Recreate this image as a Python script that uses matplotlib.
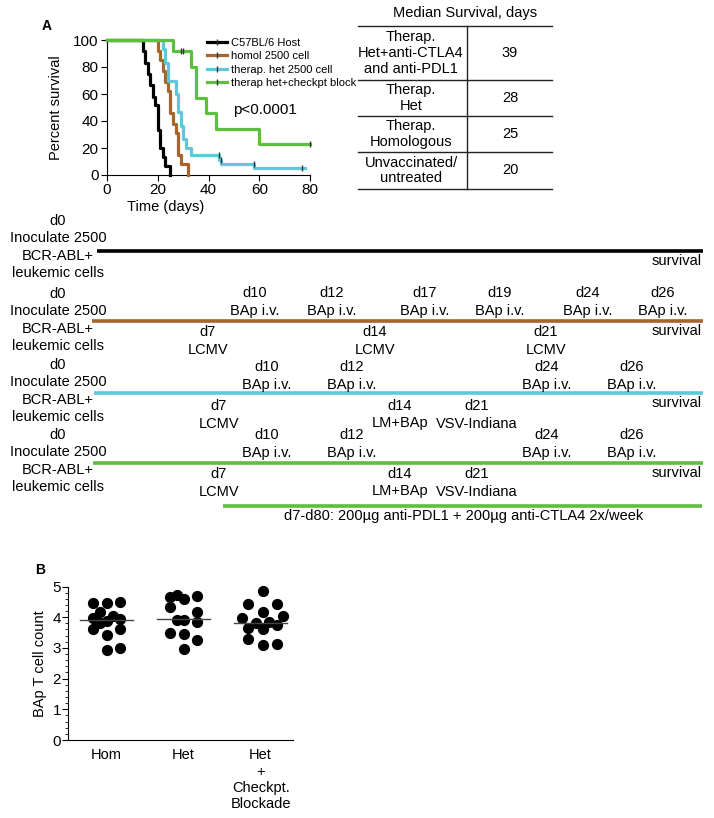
import numpy as np
import matplotlib
matplotlib.use('Agg')
import matplotlib.pyplot as plt
from matplotlib.lines import Line2D
from matplotlib.ticker import MultipleLocator

plt.rcParams['font.family'] = ['Liberation Sans', 'DejaVu Sans']

# Kaplan-Meier curves (day, percent survival)
black_t = [0, 14, 15, 16, 17, 18, 19, 20, 21, 22, 23, 25]
black_s = [100, 92, 83, 75, 67, 58, 52, 33, 20, 13, 7, 0]
brown_t = [0, 20, 21, 22, 23, 24, 25, 26, 27, 28, 29, 32]
brown_s = [100, 92, 85, 77, 69, 62, 46, 38, 31, 15, 8, 0]
cyan_t = [0, 22, 23, 24, 27, 28, 29, 30, 31, 33, 44, 45, 58, 78]
cyan_s = [100, 93, 83, 70, 60, 47, 36, 27, 20, 15, 11, 8, 5, 5]
green_t = [0, 26, 33, 35, 39, 43, 60, 80]
green_s = [100, 92, 80, 57, 46, 34, 23, 23]
# censor marks
cens_green_t = [29, 30, 80]
cens_green_s = [92, 92, 23]
cens_cyan_t = [44, 45, 58, 77]
cens_cyan_s = [15, 11, 8, 5]

curve_labels = ['C57BL/6 Host', 'homol 2500 cell', 'therap. het 2500 cell', 'therap het+checkpt block']
c_black, c_brown, c_cyan, c_green = '#000000', '#a5652c', '#62c6db', '#5cbf3e'

# median survival table
tbl_groups = ['Therap.\nHet+anti-CTLA4\nand anti-PDL1', 'Therap.\nHet', 'Therap.\nHomologous',
              'Unvaccinated/\nuntreated']
tbl_medians = ['39', '28', '25', '20']

# panel B: BAp T cell count
categories = ['Hom', 'Het', 'Het\n+\nCheckpt.\nBlockade']
hom_y = [4.45, 4.45, 4.48, 4.18, 3.99, 4.04, 3.89, 3.82, 3.93, 3.6, 3.6, 3.42, 2.93, 2.99]
hom_dx = [-0.18, 0.01, 0.18, -0.09, -0.18, 0.09, 0.0, -0.09, 0.18, -0.18, 0.18, 0.01, 0.01, 0.18]
het_y = [4.65, 4.72, 4.58, 4.69, 4.32, 4.18, 3.91, 3.91, 3.85, 3.5, 3.45, 3.26, 2.95]
het_dx = [-0.18, -0.09, 0.0, 0.17, -0.18, 0.17, -0.09, 0.0, 0.17, -0.18, 0.0, 0.17, 0.0]
chk_y = [4.86, 4.42, 4.42, 4.18, 3.96, 4.05, 3.8, 3.83, 3.66, 3.6, 3.74, 3.29, 3.1, 3.13]
chk_dx = [0.03, -0.16, 0.21, 0.03, -0.24, 0.29, -0.06, 0.11, -0.16, 0.03, 0.21, -0.16, 0.03, 0.21]
medians_b = [3.91, 3.93, 3.82]

fig = plt.figure(figsize=(7.14, 8.18), dpi=100)

# overlay in pixel coordinates for timeline + table
ov = fig.add_axes([0, 0, 1, 1])
ov.set_xlim(0, 714)
ov.set_ylim(818, 0)
ov.axis('off')

W, H = 714, 818
def ax_rect(l, t, r, b):
    return [l / W, 1 - b / H, (r - l) / W, (b - t) / H]

# ---- survival curves
ax = fig.add_axes(ax_rect(107, 40, 310, 175))
for t, s, c in [(black_t, black_s, c_black), (brown_t, brown_s, c_brown),
                (cyan_t, cyan_s, c_cyan), (green_t, green_s, c_green)]:
    ax.step(t, s, where='post', color=c, lw=2.3, clip_on=False, zorder=3)
ax.plot(cens_green_t, cens_green_s, ls='none', marker='|', ms=4, mew=1, color='#333333', clip_on=False, zorder=4)
ax.plot(cens_cyan_t, cens_cyan_s, ls='none', marker='|', ms=4, mew=1, color='#333333', clip_on=False, zorder=4)
ax.set_xlim(0, 80)
ax.set_ylim(0, 100)
ax.set_xticks([0, 20, 40, 60, 80])
ax.set_yticks([0, 20, 40, 60, 80, 100])
ax.spines['top'].set_visible(False)
ax.spines['right'].set_visible(False)
ax.tick_params(labelsize=11, length=4, direction='out', pad=2)
ax.patch.set_alpha(0)
handles = [Line2D([], [], color=c, lw=2.3, marker='|', ms=4, mew=1, markeredgecolor='#333333')
           for c in [c_black, c_brown, c_cyan, c_green]]
ax.legend(handles, curve_labels, loc='upper left', bbox_to_anchor=(207 / W, 1 - 38 / H),
          bbox_transform=fig.transFigure, frameon=False, fontsize=8, handlelength=1.8,
          handletextpad=0.4, labelspacing=0.3, borderpad=0, borderaxespad=0)
ax.text(233 / W, 1 - 110 / H, 'p<0.0001', transform=fig.transFigure, fontsize=11, va='center')
fig.text(42 / W, 1 - 26 / H, 'A', fontsize=10, fontweight='bold', va='center')
fig.text(56 / W, 1 - 108 / H, 'Percent survival', rotation=90, fontsize=10.5, va='center', ha='center')
fig.text(166 / W, 1 - 207 / H, 'Time (days)', fontsize=10.5, va='center', ha='center')

# ---- median survival table
ov.text(465, 13, 'Median Survival, days', ha='center', va='center', fontsize=10.5)
row_lines = [26, 80, 116, 152, 189]
for y in row_lines:
    ov.plot([358, 552], [y, y], color='#222222', lw=1)
ov.plot([467, 467], [26, 189], color='#222222', lw=1)
for i, (g, m) in enumerate(zip(tbl_groups, tbl_medians)):
    yc = (row_lines[i] + row_lines[i + 1]) / 2
    ov.text(411, yc, g, ha='center', va='center', fontsize=10.5, linespacing=1.15)
    ov.text(510, yc, m, ha='center', va='center', fontsize=10.5)

# ---- timelines
fs = 10.5
inoc = ['d0', 'Inoculate 2500', 'BCR-ABL+', 'leukemic cells']
row_top = [221, 294, 365, 435]
row_line = [251, 321, 393, 463]
row_start = [97, 92, 94, 93]
row_col = [c_black, c_brown, c_cyan, c_green]
for i in range(4):
    for k, s in enumerate(inoc):
        ov.text(58, row_top[i] + 17.3 * k, s, ha='center', va='center', fontsize=fs)
    ov.plot([row_start[i], 703], [row_line[i], row_line[i]], color=row_col[i], lw=2.6,
            solid_capstyle='butt')
    ov.text(702, row_line[i] + 10, 'survival', ha='right', va='center', fontsize=fs)

# events above / below each line: (day label, treatment)
brown_up = [('d10', 'BAp i.v.'), ('d12', 'BAp i.v.'), ('d17', 'BAp i.v.'), ('d19', 'BAp i.v.'),
            ('d24', 'BAp i.v.'), ('d26', 'BAp i.v.')]
brown_up_x = [255, 332, 425, 500, 588, 663]
brown_dn = [('d7', 'LCMV'), ('d14', 'LCMV'), ('d21', 'LCMV')]
brown_dn_x = [208, 375, 546]
het_up = [('d10', 'BAp i.v.'), ('d12', 'BAp i.v.'), ('d24', 'BAp i.v.'), ('d26', 'BAp i.v.')]
het_up_x = [267, 352, 547, 632]
het_dn = [('d7', 'LCMV'), ('d14', 'LM+BAp'), ('d21', 'VSV-Indiana')]
het_dn_x = [219, 400, 477]

def events(evts, xs, y1):
    for (a, b), x in zip(evts, xs):
        ov.text(x, y1, a, ha='center', va='center', fontsize=fs)
        ov.text(x, y1 + 17.5, b, ha='center', va='center', fontsize=fs)

events(brown_up, brown_up_x, 293)
events(brown_dn, brown_dn_x, 332)
events(het_up, het_up_x, 367)
events(het_dn, het_dn_x, 406)
events(het_up, het_up_x, 435)
events(het_dn, het_dn_x, 474)
ov.plot([223, 702], [506, 506], color=c_green, lw=2.6, solid_capstyle='butt')
ov.text(464, 516, 'd7-d80: 200\u00b5g anti-PDL1 + 200\u00b5g anti-CTLA4 2x/week',
        ha='center', va='center', fontsize=fs)

# ---- panel B
axb = fig.add_axes(ax_rect(68, 586.5, 293, 740))
for i, (ys, dx) in enumerate([(hom_y, hom_dx), (het_y, het_dx), (chk_y, chk_dx)]):
    axb.scatter(i + np.array(dx), ys, s=50, color='black', zorder=3, clip_on=False)
    axb.plot([i - 0.34, i + 0.34], [medians_b[i], medians_b[i]], color='#444444', lw=1, zorder=4)
axb.set_xlim(-0.5, 2.42)
axb.set_ylim(0, 5)
axb.set_xticks([0, 1, 2])
axb.set_xticklabels(categories, fontsize=10.5, linespacing=1.2, va='top')
axb.yaxis.set_minor_locator(MultipleLocator(0.2))
axb.tick_params(axis='y', labelsize=11, length=4, pad=1)
axb.tick_params(axis='y', which='minor', length=2)
axb.tick_params(axis='x', length=0, pad=6)
axb.spines['top'].set_visible(False)
axb.spines['right'].set_visible(False)
axb.set_ylabel('BAp T cell count', fontsize=10.5, labelpad=4)
fig.text(35 / W, 1 - 570 / H, 'B', fontsize=10, fontweight='bold', va='center')

fig.savefig('out.png', dpi=100)
